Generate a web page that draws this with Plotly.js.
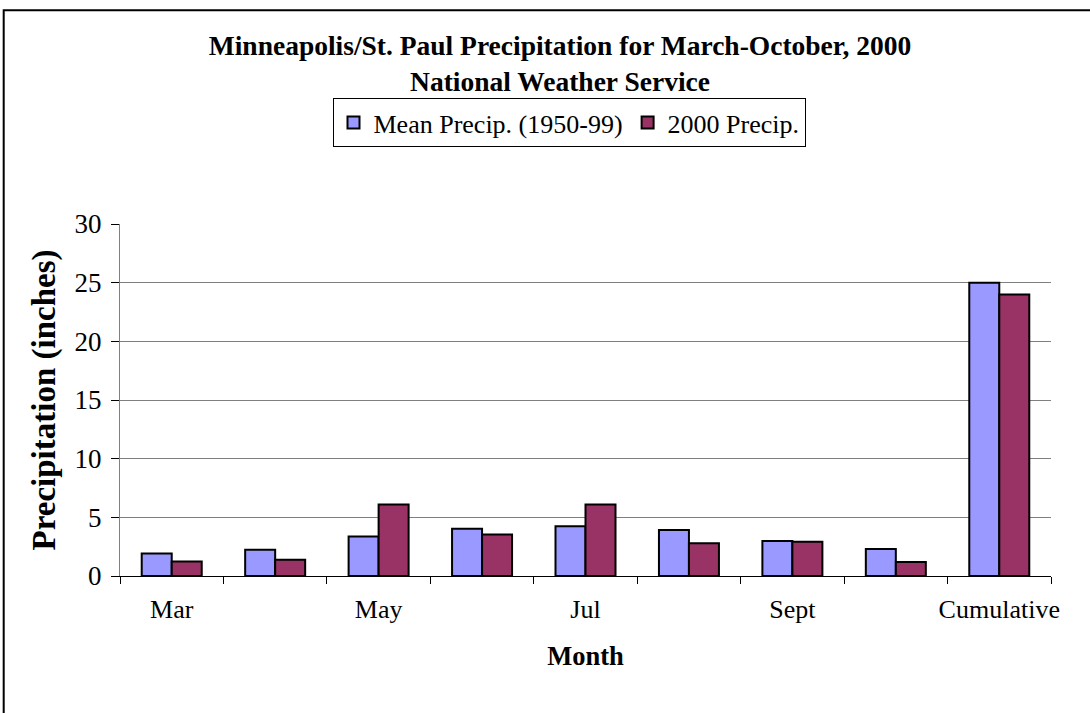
<!DOCTYPE html>
<html>
<head>
<meta charset="utf-8">
<script src="https://cdn.plot.ly/plotly-3.0.1.min.js"></script>
<style>
html,body{margin:0;padding:0;background:#fff;}
#chart{width:1090px;height:713px;}
</style>
</head>
<body>
<div id="chart"></div>
<script>
// Data
const categories = ['Mar', 'Apr', 'May', 'Jun', 'Jul', 'Aug', 'Sept', 'Oct', 'Cumulative'];
const tickLabels = ['Mar', '', 'May', '', 'Jul', '', 'Sept', '', 'Cumulative'];
const meanPrecip = [1.92, 2.23, 3.36, 4.03, 4.24, 3.92, 2.99, 2.31, 25.0];
const precip2000 = [1.24, 1.38, 6.10, 3.53, 6.10, 2.80, 2.91, 1.19, 24.0];
const seriesNames = ['Mean Precip. (1950-99)', '2000 Precip.'];
const yTicks = [0, 5, 10, 15, 20, 25, 30];

const FONT = '"Liberation Serif", "Times New Roman", Times, serif';

// plot geometry (pixels) used for paper-coordinate conversions
const W = 1090, H = 713;
const M = {l: 120, r: 39, t: 224, b: 137};
const PW = W - M.l - M.r, PH = H - M.t - M.b;
const px = x => (x - M.l) / PW;
const py = y => (H - M.b - y) / PH;

const traces = [
  {
    type: 'bar', name: seriesNames[0], x: categories, y: meanPrecip,
    marker: {color: '#9999FF', line: {color: '#000000', width: 2}}
  },
  {
    type: 'bar', name: seriesNames[1], x: categories, y: precip2000,
    marker: {color: '#993366', line: {color: '#000000', width: 2}}
  }
];

const layout = {
  width: W, height: H,
  margin: M,
  paper_bgcolor: '#ffffff', plot_bgcolor: '#ffffff',
  font: {family: FONT, color: '#000000', size: 26},
  barmode: 'group', bargap: 0.42, bargroupgap: 0,
  showlegend: true,
  title: {
    text: 'Minneapolis/St. Paul Precipitation for March-October, 2000<br>National Weather Service',
    font: {family: FONT, size: 27.5, color: '#000000', weight: 'bold'},
    xref: 'paper', x: px(560), xanchor: 'center',
    yref: 'container', y: 1 - 55 / H, yanchor: 'top'
  },
  legend: {
    orientation: 'h',
    xref: 'paper', x: px(569), xanchor: 'center',
    yref: 'paper', y: py(98), yanchor: 'top',
    bordercolor: '#000000', borderwidth: 1,
    bgcolor: '#ffffff',
    font: {family: FONT, size: 26, color: '#000000'},
    traceorder: 'normal'
  },
  xaxis: {
    type: 'category',
    tickmode: 'array', tickvals: categories, ticktext: tickLabels,
    tickson: 'boundaries', ticks: 'outside', ticklen: 7, tickcolor: '#000000', tickwidth: 1,
    tickangle: 0, ticklabelstandoff: 10,
    showline: true, linecolor: '#000000', linewidth: 1,
    showgrid: false, zeroline: false,
    tickfont: {family: FONT, size: 26, color: '#000000'},
    title: {text: 'Month', font: {family: FONT, size: 26.5, color: '#000000', weight: 'bold'}, standoff: 23}
  },
  yaxis: {
    range: [0, 30], tickmode: 'array', tickvals: yTicks,
    ticks: 'outside', ticklen: 8, tickcolor: '#000000', tickwidth: 1,
    ticklabelstandoff: 4,
    showline: true, linecolor: '#808080', linewidth: 1,
    showgrid: true, gridcolor: '#808080', gridwidth: 1,
    zeroline: false,
    tickfont: {family: FONT, size: 27, color: '#000000'},
    title: {text: 'Precipitation (inches)', font: {family: FONT, size: 33, color: '#000000', weight: 'bold'}, standoff: 9}
  },
  shapes: [
    {
      type: 'rect', xref: 'paper', yref: 'paper',
      x0: px(3.7), x1: px(1110), y0: py(10.3), y1: py(740),
      line: {color: '#000000', width: 2}, fillcolor: 'rgba(0,0,0,0)', layer: 'above'
    }
  ]
};

Plotly.newPlot('chart', traces, layout, {displayModeBar: false, staticPlot: true});
</script>
</body>
</html>
